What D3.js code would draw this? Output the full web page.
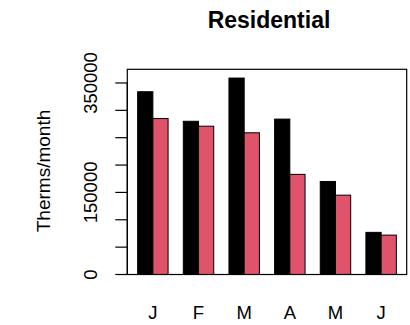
<!DOCTYPE html>
<html><head><meta charset="utf-8">
<script src="https://cdn.jsdelivr.net/npm/d3@7/dist/d3.min.js"></script>
<style>html,body{margin:0;padding:0;background:#fff;}svg{display:block;}</style>
</head><body>
<script>
const categories = ["J","F","M","A","M","J"];
const series1 = [334000, 280000, 359000, 284000, 170000, 77000];
const series2 = [285000, 271000, 259000, 183000, 145000, 72000];
const tickValues = [0,50000,100000,150000,200000,250000,300000,350000];
const labeledTicks = [0,150000,350000];
const colors = ["#000000","#DF536B"];

const W=410,H=325;
const box={left:127.3,right:406.7,top:69.3,bottom:274.5};
const svg=d3.select("body").append("svg").attr("width",W).attr("height",H);
const font="Liberation Sans, Arial, Helvetica, sans-serif";

const x=d3.scaleLinear().domain([0.32,18.68]).range([box.left,box.right]);
const y=d3.scaleLinear().domain([0,375000]).range([box.bottom,box.top]);

const data=[];
categories.forEach((c,g)=>{
  [series1,series2].forEach((s,k)=>{
    data.push({g,k,v:s[g],x0:1+g*3+k});
  });
});
svg.append("g").selectAll("rect").data(data).join("rect")
  .attr("x",d=>x(d.x0)).attr("width",d=>x(d.x0+1)-x(d.x0))
  .attr("y",d=>y(d.v)).attr("height",d=>y(0)-y(d.v))
  .attr("fill",d=>colors[d.k]).attr("stroke","#000").attr("stroke-width",1);

// box
svg.append("rect").attr("x",box.left).attr("y",box.top)
  .attr("width",box.right-box.left).attr("height",box.bottom-box.top)
  .attr("fill","none").attr("stroke","#000").attr("stroke-width",1.2);

// y axis
const yAxis=d3.axisLeft(y).tickValues(tickValues).tickSize(12)
  .tickFormat(d=>labeledTicks.includes(d)?String(d):"");
const ga=svg.append("g").attr("transform",`translate(${box.left},0)`).call(yAxis);
ga.select(".domain").attr("d",`M-12,${y(0)}H0V${y(350000)}H-12`).attr("stroke","#000").attr("stroke-width",1.2).attr("fill","none")
  .attr("d",`M0,${y(0)}V${y(350000)}`);
ga.selectAll(".tick line").attr("stroke","#000").attr("stroke-width",1.2);
ga.selectAll(".tick text").attr("font-family",font).attr("font-size",18.5).attr("fill","#000")
  .attr("transform",d=>`translate(-30,${y(d)}) rotate(-90)`).attr("x",0).attr("y",0).attr("dy",0)
  .attr("text-anchor","middle");
ga.selectAll(".tick").attr("transform",null);
ga.selectAll(".tick line").attr("y1",d=>y(d)).attr("y2",d=>y(d));

// x labels
svg.append("g").selectAll("text").data(categories).join("text")
  .attr("x",(d,i)=>x(2+i*3)).attr("y",319)
  .attr("text-anchor","middle").attr("font-family",font).attr("font-size",18.5).text(d=>d);

// title
svg.append("text").attr("x",(box.left+box.right)/2+2).attr("y",28)
  .attr("text-anchor","middle").attr("font-family",font).attr("font-weight","bold")
  .attr("font-size",23).text("Residential");

// y label
svg.append("text").attr("transform",`translate(50,171) rotate(-90)`)
  .attr("text-anchor","middle").attr("font-family",font).attr("font-size",19).text("Therms/month");
</script>
</body></html>
